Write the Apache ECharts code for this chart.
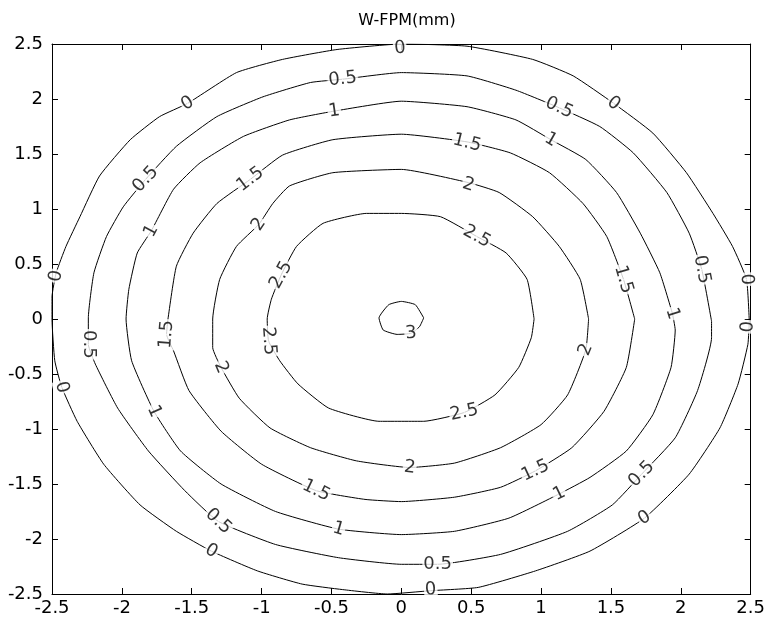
<!DOCTYPE html>
<html lang="en">
<head>
    <meta charset="UTF-8">
    <title>W-FPM contour</title>
    <script src="https://cdn.jsdelivr.net/npm/echarts@6/dist/echarts.min.js"></script>
</head>
<body style="margin:0; background:#fff;">
<div id="main" style="width:768px; height:626px;"></div>
</body>
<script type="text/javascript">

    // axis ticks (same for x and y)
    const ticks = [-2.5, -2, -1.5, -1, -0.5, 0, 0.5, 1, 1.5, 2, 2.5];

    // contour levels and the traced points [x, y] of each closed contour
    const levels = [0, 0.5, 1, 1.5, 2, 2.5, 3];

    const c0 = [
        [2.49, -0.02], [2.47, 0.36], [2.37, 0.66], [2.23, 0.96], [2.04, 1.33], [1.80, 1.69],
        [1.52, 1.96], [1.23, 2.21], [0.94, 2.36], [0.47, 2.48], [0.00, 2.50], [-0.46, 2.45],
        [-0.85, 2.36], [-1.18, 2.24], [-1.53, 1.96], [-1.73, 1.84], [-1.94, 1.63], [-2.16, 1.30],
        [-2.30, 0.93], [-2.40, 0.66], [-2.47, 0.42], [-2.50, 0.20], [-2.50, 0.00], [-2.48, -0.38],
        [-2.43, -0.62], [-2.32, -0.93], [-2.13, -1.32], [-1.87, -1.69], [-1.61, -1.93], [-1.36, -2.11],
        [-1.03, -2.29], [-0.71, -2.41], [-0.42, -2.46], [-0.10, -2.50], [0.21, -2.47], [0.55, -2.44],
        [0.96, -2.29], [1.35, -2.11], [1.74, -1.81], [2.06, -1.41], [2.28, -0.99], [2.41, -0.59],
        [2.48, -0.23]
    ];
    const c05 = [
        [2.22, -0.02], [2.15, 0.45], [2.06, 0.78], [1.90, 1.15], [1.66, 1.51], [1.42, 1.75],
        [1.13, 1.92], [0.82, 2.08], [0.47, 2.21], [0.00, 2.24], [-0.42, 2.18], [-0.65, 2.15],
        [-0.99, 2.02], [-1.32, 1.84], [-1.61, 1.57], [-1.83, 1.27], [-1.99, 1.02], [-2.11, 0.75],
        [-2.20, 0.42], [-2.24, 0.01], [-2.24, -0.23], [-2.19, -0.41], [-2.03, -0.81], [-1.81, -1.20],
        [-1.55, -1.56], [-1.31, -1.84], [-0.90, -2.05], [-0.45, -2.17], [0.00, -2.23], [0.26, -2.23],
        [0.71, -2.14], [1.19, -1.93], [1.51, -1.69], [1.72, -1.41], [1.96, -1.08], [2.12, -0.65],
        [2.22, -0.17]
    ];
    const c1 = [
        [1.94, 0.05], [1.85, 0.42], [1.71, 0.78], [1.54, 1.15], [1.32, 1.45], [1.07, 1.63],
        [0.82, 1.81], [0.47, 1.93], [0.00, 1.98], [-0.48, 1.89], [-0.80, 1.81], [-1.13, 1.66],
        [-1.44, 1.42], [-1.63, 1.18], [-1.79, 0.80], [-1.89, 0.60], [-1.95, 0.27], [-1.97, 0.00],
        [-1.93, -0.38], [-1.77, -0.84], [-1.58, -1.20], [-1.29, -1.50], [-0.90, -1.75], [-0.45, -1.91],
        [0.00, -1.96], [0.38, -1.93], [0.77, -1.81], [1.13, -1.59], [1.35, -1.44], [1.61, -1.20],
        [1.80, -0.87], [1.93, -0.44], [1.96, -0.10]
    ];
    const c15 = [
        [1.67, 0.00], [1.59, 0.36], [1.47, 0.75], [1.30, 1.05], [1.06, 1.33], [0.78, 1.51],
        [0.47, 1.61], [0.00, 1.68], [-0.49, 1.63], [-0.85, 1.49], [-1.08, 1.27], [-1.32, 1.05],
        [-1.49, 0.78], [-1.61, 0.48], [-1.67, 0.00], [-1.68, -0.14], [-1.63, -0.29], [-1.52, -0.65],
        [-1.29, -1.02], [-1.00, -1.32], [-0.61, -1.56], [-0.26, -1.64], [0.00, -1.66], [0.38, -1.62],
        [0.71, -1.53], [0.96, -1.38], [1.22, -1.17], [1.45, -0.84], [1.61, -0.44]
    ];
    const c2 = [
        [1.34, 0.00], [1.28, 0.36], [1.13, 0.66], [0.94, 0.93], [0.70, 1.15], [0.48, 1.24],
        [0.00, 1.36], [-0.49, 1.33], [-0.80, 1.21], [-0.92, 1.05], [-1.02, 0.86], [-1.18, 0.66],
        [-1.30, 0.36], [-1.35, 0.00], [-1.35, -0.26], [-1.29, -0.44], [-1.16, -0.72], [-0.94, -0.99],
        [-0.65, -1.17], [-0.32, -1.29], [0.06, -1.35], [0.38, -1.31], [0.71, -1.17], [1.00, -0.96],
        [1.19, -0.69], [1.32, -0.28]
    ];
    const c25 = [
        [0.95, 0.00], [0.90, 0.36], [0.75, 0.60], [0.54, 0.75], [0.28, 0.93], [0.00, 0.96],
        [-0.25, 0.96], [-0.56, 0.87], [-0.75, 0.66], [-0.86, 0.40], [-0.93, 0.18], [-0.96, 0.00],
        [-0.95, -0.20], [-0.87, -0.38], [-0.74, -0.59], [-0.52, -0.81], [-0.16, -0.93], [0.16, -0.93],
        [0.45, -0.85], [0.67, -0.69], [0.84, -0.44], [0.93, -0.17]
    ];
    const c3 = [
        [0.16, 0.01], [0.10, 0.13], [0.00, 0.16], [-0.09, 0.13], [-0.16, 0.01], [-0.13, -0.10],
        [-0.03, -0.14], [0.07, -0.13], [0.13, -0.07]
    ];
    const contours = [c0, c05, c1, c15, c2, c25, c3];

    // where the contour labels sit: [x, y, level]
    const labelSpots = [
        [-0.01, 2.46, 0], [-0.42, 2.18, 0.5], [-0.48, 1.89, 1], [-1.53, 1.96, 0],
        [-1.83, 1.27, 0.5], [-1.08, 1.27, 1.5], [-1.79, 0.80, 1], [-1.02, 0.86, 2],
        [-0.86, 0.40, 2.5], [-2.47, 0.39, 0], [1.13, 1.92, 0.5], [1.52, 1.96, 0],
        [1.07, 1.63, 1], [0.47, 1.60, 1.5], [0.48, 1.22, 2], [0.54, 0.75, 2.5],
        [1.59, 0.36, 1.5], [2.15, 0.45, 0.5], [2.47, 0.36, 0], [1.94, 0.05, 1],
        [-2.24, -0.23, 0.5], [-2.43, -0.62, 0], [-1.68, -0.14, 1.5], [-0.95, -0.20, 2.5],
        [-1.29, -0.44, 2], [-1.77, -0.84, 1], [-1.31, -1.84, 0.5], [-1.36, -2.11, 0],
        [-0.61, -1.56, 1.5], [-0.45, -1.91, 1], [0.06, -1.35, 2], [0.26, -2.23, 0.5],
        [0.21, -2.46, 0], [0.45, -0.85, 2.5], [0.96, -1.38, 1.5], [1.13, -1.59, 1],
        [1.72, -1.41, 0.5], [1.74, -1.81, 0], [1.32, -0.28, 2], [0.07, -0.13, 3],
        [2.48, -0.07, 0]
    ];

    const FONT = 'DejaVu Sans';
    let myChart = echarts.init(document.getElementById('main'));

    function makeAxis(pos, showLabel) {
        return {
            type: 'value',
            position: pos,
            min: ticks[0],
            max: ticks[ticks.length - 1],
            interval: ticks[1] - ticks[0],
            axisLine: {show: true, onZero: false, lineStyle: {color: '#000', width: 1}},
            axisTick: {show: true, inside: true, length: 6, lineStyle: {color: '#000'}},
            axisLabel: {
                show: showLabel,
                color: '#000',
                fontFamily: FONT,
                fontSize: 18,
                margin: (pos === 'left') ? 9 : 5
            },
            splitLine: {show: false}
        };
    }

    let lineSeries = contours.map(function (pts, i) {
        return {
            type: 'line',
            name: String(levels[i]),
            data: pts.concat([pts[0]]),
            showSymbol: false,
            symbol: 'none',
            smooth: 0.15,
            lineStyle: {color: '#000', width: 1},
            z: 2
        };
    });

    function labelData(rots) {
        return labelSpots.map(function (s, i) {
            return {
                name: String(s[2]),
                value: [s[0], s[1]],
                label: {rotate: rots ? rots[i] : 0}
            };
        });
    }

    let option = {
        animation: false,
        backgroundColor: '#fff',
        title: {
            text: 'W-FPM(mm)',
            left: 402,
            top: 8,
            textAlign: 'center',
            textStyle: {color: '#000', fontFamily: FONT, fontSize: 16, fontWeight: 'normal'}
        },
        grid: {left: 52, right: 17, top: 44, bottom: 32, containLabel: false},
        xAxis: [makeAxis('bottom', true), makeAxis('top', false)],
        yAxis: [makeAxis('left', true), makeAxis('right', false)],
        series: lineSeries.concat([{
            id: 'labels',
            type: 'scatter',
            symbol: 'circle',
            symbolSize: 1,
            itemStyle: {color: '#fff'},
            z: 5,
            label: {
                show: true,
                position: 'inside',
                formatter: '{b}',
                color: '#000',
                fontFamily: FONT,
                fontSize: 18,
                backgroundColor: '#fff',
                padding: [0, 1]
            },
            data: labelData(null)
        }])
    };
    myChart.setOption(option);

    // turn each label along its contour (nearest segment, in pixels)
    function labelAngle(s) {
        let pts = contours[levels.indexOf(s[2])];
        let p = myChart.convertToPixel({gridIndex: 0}, [s[0], s[1]]);
        let best = Infinity, ang = 0;
        for (let i = 0; i < pts.length; i++) {
            let a = myChart.convertToPixel({gridIndex: 0}, pts[i]);
            let b = myChart.convertToPixel({gridIndex: 0}, pts[(i + 1) % pts.length]);
            let dx = b[0] - a[0], dy = b[1] - a[1];
            let len2 = dx * dx + dy * dy || 1;
            let t = ((p[0] - a[0]) * dx + (p[1] - a[1]) * dy) / len2;
            t = Math.max(0, Math.min(1, t));
            let ex = a[0] + t * dx - p[0], ey = a[1] + t * dy - p[1];
            let d = ex * ex + ey * ey;
            if (d < best) {
                best = d;
                ang = Math.atan2(-dy, dx) * 180 / Math.PI;
            }
        }
        if (ang > 90) ang -= 180;
        if (ang < -90) ang += 180;
        return Math.round(ang);
    }

    myChart.setOption({
        series: [{id: 'labels', data: labelData(labelSpots.map(labelAngle))}]
    });
</script>
</html>
